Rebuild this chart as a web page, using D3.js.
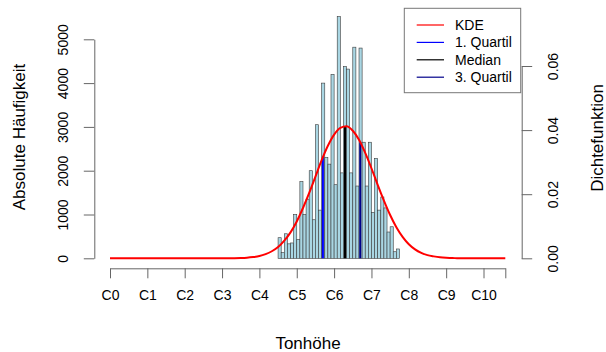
<!DOCTYPE html>
<html>
<head>
<meta charset="utf-8">
<script src="https://cdn.jsdelivr.net/npm/d3@7"></script>
<style>
  body { margin: 0; background: #fff; }
  text { font-family: "Liberation Sans", Arial, sans-serif; fill: #000; }
</style>
</head>
<body>
<div id="chart"></div>
<script>
// histogram: one bin per semitone, first bin starts at pitch 54
const binStart = 54;
const counts = [470, 130, 560, 330, 350, 1000, 430, 1750, 1000, 1350,
                2000, 880, 3050, 1100, 4000, 2300, 2150, 4200, 1680, 5520,
                1950, 4380, 4320, 1950, 4820, 1650, 4800, 2650, 1650, 2650,
                1050, 2280, 1100, 1400, 1150, 600, 720, 150, 213];

// KDE (pitch, density)
const kdeX = [0, 40, 42, 44, 46, 48, 50, 52, 54, 56, 58, 60, 62, 64, 66, 68, 70, 72, 74, 76,
              78, 80, 82, 84, 86, 88, 90, 92, 94, 96, 98, 100, 102, 104, 106, 108, 110, 112, 127];
const kdeY = [0, 0.00005, 0.0001, 0.0002, 0.0004, 0.0007, 0.0013, 0.0022, 0.0035, 0.0055,
              0.0081, 0.0115, 0.0157, 0.0204, 0.0255, 0.0306, 0.0351, 0.0386, 0.0407, 0.0412,
              0.0398, 0.0370, 0.0329, 0.0281, 0.0229, 0.0180, 0.0135, 0.0097, 0.0067, 0.0044,
              0.0028, 0.0017, 0.0010, 0.0006, 0.0003, 0.00015, 0.0001, 0, 0];

const quartNames = ["1. Quartil", "Median", "3. Quartil"];
const quartPos = [68.4, 75.5, 80.4];
const quartDens = [0.0317, 0.0412, 0.0362];
const quartColors = ["#0000ff", "#000000", "#00008b"];

const xTicks = [0, 12, 24, 36, 48, 60, 72, 84, 96, 108, 120, 127];
const xLabels = ["C0", "C1", "C2", "C3", "C4", "C5", "C6", "C7", "C8", "C9", "C10", ""];
const leftTicks = [0, 1000, 2000, 3000, 4000, 5000];
const rightTicks = [0, 0.02, 0.04, 0.06];

const legendNames = ["KDE", "1. Quartil", "Median", "3. Quartil"];
const legendColors = ["#ff0000", "#0000ff", "#000000", "#00008b"];

const width = 606, height = 352;
const axisCol = "#666";

const svg = d3.select("#chart").append("svg")
    .attr("width", width)
    .attr("height", height);

svg.append("rect").attr("width", width).attr("height", height).attr("fill", "#fff");

const x = d3.scaleLinear().domain([0, 127]).range([110, 505.3]);
const yCount = d3.scaleLinear().domain([0, 5000]).range([258.3, 39.3]);
const yDens = d3.scaleLinear().domain([0, 0.06]).range([258.3, 66]);

// bars
svg.append("g").selectAll("rect")
    .data(counts)
    .enter().append("rect")
    .attr("x", (d, i) => x(binStart + i))
    .attr("y", d => yCount(d))
    .attr("width", (d, i) => x(binStart + i + 1) - x(binStart + i))
    .attr("height", d => yCount(0) - yCount(d))
    .attr("fill", "#a9d6e3")
    .attr("stroke", "#3a3a3a")
    .attr("stroke-width", 0.6);

// quartile lines
svg.append("g").selectAll("line")
    .data(quartPos)
    .enter().append("line")
    .attr("x1", d => x(d))
    .attr("x2", d => x(d))
    .attr("y1", yDens(0))
    .attr("y2", (d, i) => yDens(quartDens[i]))
    .attr("stroke", (d, i) => quartColors[i])
    .attr("stroke-width", 2);

// KDE
const kdeData = kdeX.map((v, i) => [v, kdeY[i]]);
svg.append("path")
    .datum(kdeData)
    .attr("fill", "none")
    .attr("stroke", "#ff0000")
    .attr("stroke-width", 2)
    .attr("d", d3.line()
        .x(d => x(d[0]))
        .y(d => yDens(d[1]))
        .curve(d3.curveMonotoneX));

// x axis
const xAxis = svg.append("g")
    .attr("transform", "translate(0,268.3)")
    .call(d3.axisBottom(x).tickValues(xTicks).tickSize(10).tickSizeOuter(0)
        .tickFormat((d, i) => xLabels[i]));
xAxis.select(".domain").attr("stroke", axisCol);
xAxis.selectAll(".tick line").attr("stroke", axisCol);
xAxis.selectAll("text")
    .attr("y", 27)
    .attr("dy", "0.35em")
    .style("font-size", "14px")
    .style("font-family", "Liberation Sans, Arial, sans-serif")
    .attr("fill", "#000");

// left axis
const leftAxis = svg.append("g")
    .attr("transform", "translate(94.3,0)")
    .call(d3.axisLeft(yCount).tickValues(leftTicks).tickSize(10.5).tickSizeOuter(0)
        .tickFormat(d3.format("d")));
leftAxis.select(".domain").attr("stroke", axisCol);
leftAxis.selectAll(".tick line").attr("stroke", axisCol);
leftAxis.selectAll("text")
    .attr("x", null).attr("dy", null)
    .attr("transform", "translate(-31,0) rotate(-90)")
    .attr("text-anchor", "middle")
    .attr("dy", "0.35em")
    .style("font-size", "14px")
    .style("font-family", "Liberation Sans, Arial, sans-serif")
    .attr("fill", "#000");

// right axis
const rightAxis = svg.append("g")
    .attr("transform", "translate(521.7,0)")
    .call(d3.axisRight(yDens).tickValues(rightTicks).tickSize(10.5).tickSizeOuter(0)
        .tickFormat(d3.format(".2f")));
rightAxis.select(".domain").attr("stroke", axisCol);
rightAxis.selectAll(".tick line").attr("stroke", axisCol);
rightAxis.selectAll("text")
    .attr("x", null).attr("dy", null)
    .attr("transform", "translate(31.5,0) rotate(-90)")
    .attr("text-anchor", "middle")
    .attr("dy", "0.35em")
    .style("font-size", "14px")
    .style("font-family", "Liberation Sans, Arial, sans-serif")
    .attr("fill", "#000");

// axis titles
svg.append("text")
    .attr("transform", "translate(19,137) rotate(-90)")
    .attr("text-anchor", "middle")
    .attr("dy", "0.35em")
    .style("font-size", "17px")
    .text("Absolute Häufigkeit");

svg.append("text")
    .attr("transform", "translate(597,138) rotate(-90)")
    .attr("text-anchor", "middle")
    .attr("dy", "0.35em")
    .style("font-size", "17px")
    .text("Dichtefunktion");

svg.append("text")
    .attr("x", 308)
    .attr("y", 343)
    .attr("text-anchor", "middle")
    .attr("dy", "0.35em")
    .style("font-size", "17px")
    .text("Tonhöhe");

// legend
svg.append("rect")
    .attr("x", 404.3).attr("y", 8.3)
    .attr("width", 116.4).attr("height", 84.4)
    .attr("fill", "#fff")
    .attr("stroke", "#777")
    .attr("stroke-width", 1);

const legend = svg.selectAll(".legend")
    .data(legendNames)
    .enter().append("g")
    .attr("transform", (d, i) => "translate(0," + (25 + i * 17.4) + ")");

legend.append("line")
    .attr("x1", 416.7).attr("x2", 444)
    .attr("stroke", (d, i) => legendColors[i])
    .attr("stroke-width", 1.2);

legend.append("text")
    .attr("x", 455)
    .attr("dy", "0.35em")
    .style("font-size", "14px")
    .text(d => d);
</script>
</body>
</html>
